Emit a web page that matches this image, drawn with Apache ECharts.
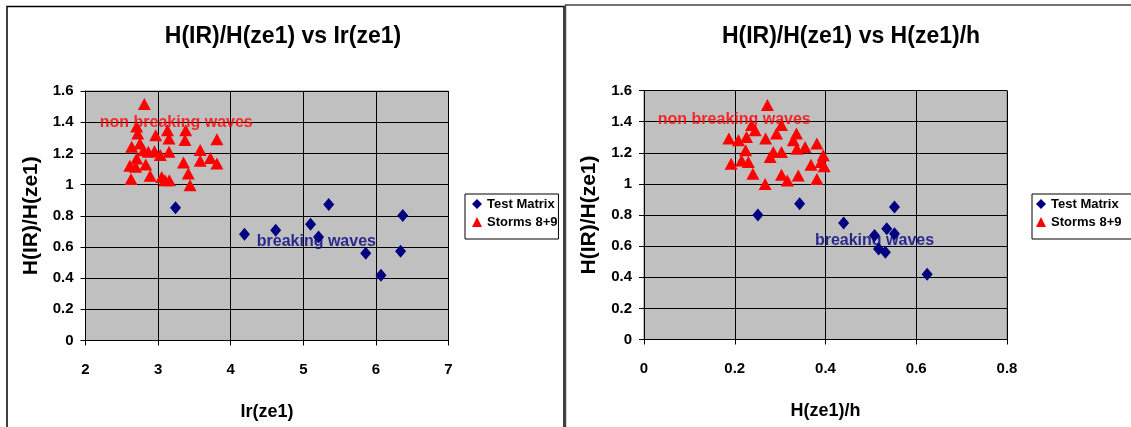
<!DOCTYPE html>
<html><head><meta charset="utf-8">
<script src="https://cdn.jsdelivr.net/npm/echarts@6/dist/echarts.min.js"></script>
<style>html,body{margin:0;padding:0;background:#fff}#c{width:1131px;height:427px}</style>
</head><body><div id="c"></div>
<script>
// ---- data ----
const seriesNames = ['Test Matrix', 'Storms 8+9'];
const leftTitle = 'H(IR)/H(ze1) vs Ir(ze1)';
const rightTitle = 'H(IR)/H(ze1) vs H(ze1)/h';
const yAxisName = 'H(IR)/H(ze1)';
const leftXName = 'Ir(ze1)';
const rightXName = 'H(ze1)/h';

// Left chart: Ir(ze1)
const leftTestX = [3.24, 4.19, 4.62, 5.10, 5.21, 5.35, 5.86, 6.07, 6.34, 6.37];
const leftTestY = [0.852, 0.681, 0.707, 0.745, 0.664, 0.872, 0.559, 0.418, 0.572, 0.801];
const leftStormX = [2.81, 2.705, 2.72, 2.967, 3.13, 3.15, 3.38, 3.37, 3.81, 2.636, 2.75, 2.80, 2.865, 2.95, 3.03, 3.15,
  3.58, 3.58, 3.72, 3.81, 2.705, 2.61, 2.69, 2.83, 3.35, 2.627, 2.89, 3.05, 3.095, 3.155, 3.416, 3.44];
const leftStormY = [1.516, 1.372, 1.327, 1.317, 1.349, 1.295, 1.349, 1.285, 1.291, 1.242, 1.263, 1.22, 1.21, 1.214, 1.189, 1.21,
  1.221, 1.152, 1.171, 1.135, 1.167, 1.12, 1.114, 1.128, 1.141, 1.035, 1.056, 1.049, 1.028, 1.028, 1.071, 0.996];

// Right chart: H(ze1)/h
const rightTestX = [0.251, 0.343, 0.440, 0.508, 0.517, 0.532, 0.535, 0.552, 0.552, 0.624];
const rightTestY = [0.800, 0.873, 0.748, 0.668, 0.582, 0.561, 0.712, 0.679, 0.852, 0.420];
const rightStormX = [0.272, 0.237, 0.187, 0.208, 0.226, 0.245, 0.268, 0.292, 0.303, 0.336, 0.329, 0.355, 0.381, 0.337, 0.224, 0.285,
  0.303, 0.278, 0.215, 0.23, 0.192, 0.240, 0.267, 0.303, 0.316, 0.340, 0.381, 0.368, 0.390, 0.397, 0.395];
const rightStormY = [1.507, 1.378, 1.291, 1.281, 1.302, 1.345, 1.291, 1.323, 1.378, 1.323, 1.281, 1.237, 1.259, 1.226, 1.216, 1.205,
  1.205, 1.173, 1.151, 1.14, 1.13, 1.065, 1.0, 1.058, 1.022, 1.054, 1.032, 1.123, 1.14, 1.114, 1.184];

// annotation texts and their anchor (data coordinates)
const annoTexts = ['non breaking waves', 'breaking waves'];
const leftAnnoX = [3.25, 5.18];
const leftAnnoY = [1.40, 0.632];
const rightAnnoX = [0.199, 0.508];
const rightAnnoY = [1.41, 0.633];

// ---- build ----
const FONT = '"Liberation Sans", Arial, Helvetica, sans-serif';
const zip = (xs, ys) => xs.map((x, i) => [x, ys[i]]);
const bold = (size, color) => ({ fontFamily: FONT, fontWeight: 'bold', fontSize: size, color: color || '#000' });

function xAxis(gi, min, max, interval, name) {
  return {
    type: 'value', gridIndex: gi, min, max, interval,
    name, nameLocation: 'middle', nameGap: 63, nameTextStyle: bold(18),
    axisLine: { show: true, onZero: false, lineStyle: { color: '#000', width: 1 } },
    axisTick: { show: true, inside: false, length: 5, lineStyle: { color: '#000' } },
    axisLabel: { margin: 22, ...bold(15) },
    splitLine: { show: true, lineStyle: { color: '#000', width: 1 } }
  };
}
function yAxis(gi) {
  return {
    type: 'value', gridIndex: gi, min: 0, max: 1.6, interval: 0.2,
    name: yAxisName, nameLocation: 'middle', nameRotate: 90, nameGap: 44, nameTextStyle: bold(21),
    axisLine: { show: true, onZero: false, lineStyle: { color: '#000', width: 1 } },
    axisTick: { show: true, inside: false, length: 5, lineStyle: { color: '#000' } },
    axisLabel: { margin: 12, ...bold(15) },
    splitLine: { show: true, lineStyle: { color: '#000', width: 1 } }
  };
}
function legend(left, padding) {
  return {
    orient: 'vertical', left, top: 194,
    data: [{ name: seriesNames[0], icon: 'diamond' }, { name: seriesNames[1], icon: 'triangle' }],
    itemWidth: 10, itemHeight: 10, itemGap: 4, padding,
    borderColor: '#000', borderWidth: 1, backgroundColor: '#fff',
    selectedMode: false,
    textStyle: { ...bold(13), lineHeight: 14 }
  };
}
function scatter(name, gi, data, symbol, size, color) {
  return { type: 'scatter', name, xAxisIndex: gi, yAxisIndex: gi, data, symbol, symbolSize: size,
    itemStyle: { color, opacity: 1 }, z: 3, silent: true };
}
function anno(gi, xs, ys) {
  return annoTexts.map((t, i) => ({
    type: 'scatter', name: 'anno' + gi + i, xAxisIndex: gi, yAxisIndex: gi, silent: true, z: 5,
    data: [[xs[i], ys[i]]], symbolSize: 1, itemStyle: { color: 'rgba(0,0,0,0)' },
    label: { show: true, position: 'inside', formatter: t, ...bold(16, i === 0 ? '#FF0000' : '#000080') }
  }));
}

const chart = echarts.init(document.getElementById('c'));
chart.setOption({
  animation: false,
  backgroundColor: '#fff',
  title: [
    { text: leftTitle, left: 278, top: 20, textAlign: 'center', textStyle: bold(23) },
    { text: rightTitle, left: 846, top: 20, textAlign: 'center', textStyle: bold(23) }
  ],
  graphic: [
    { type: 'rect', shape: { x: 7, y: 6.5, width: 557, height: 440 }, style: { fill: 'none', stroke: '#000', lineWidth: 1.5 }, silent: true },
    { type: 'polyline', shape: { points: [[565.5, 440], [565.5, 5], [1140, 5]] }, style: { fill: 'none', stroke: '#444', lineWidth: 1.5 }, silent: true }
  ],
  legend: [legend(465, [3, 1, 10, 7]), legend(1032, [3, 20, 10, 4])],
  grid: [
    { left: 85.5, top: 91, width: 363, height: 249.5, show: true, backgroundColor: '#C0C0C0', borderColor: '#808080', borderWidth: 1 },
    { left: 644, top: 90.5, width: 363, height: 249, show: true, backgroundColor: '#C0C0C0', borderColor: '#808080', borderWidth: 1 }
  ],
  xAxis: [xAxis(0, 2, 7, 1, leftXName), xAxis(1, 0, 0.8, 0.2, rightXName)],
  yAxis: [yAxis(0), yAxis(1)],
  series: [
    scatter(seriesNames[0], 0, zip(leftTestX, leftTestY), 'diamond', [11, 13], '#000080'),
    scatter(seriesNames[1], 0, zip(leftStormX, leftStormY), 'triangle', [13, 12], '#FF0000'),
    scatter(seriesNames[0], 1, zip(rightTestX, rightTestY), 'diamond', [11, 13], '#000080'),
    scatter(seriesNames[1], 1, zip(rightStormX, rightStormY), 'triangle', [13, 12], '#FF0000'),
    ...anno(0, leftAnnoX, leftAnnoY),
    ...anno(1, rightAnnoX, rightAnnoY)
  ]
});
</script>
</body></html>
